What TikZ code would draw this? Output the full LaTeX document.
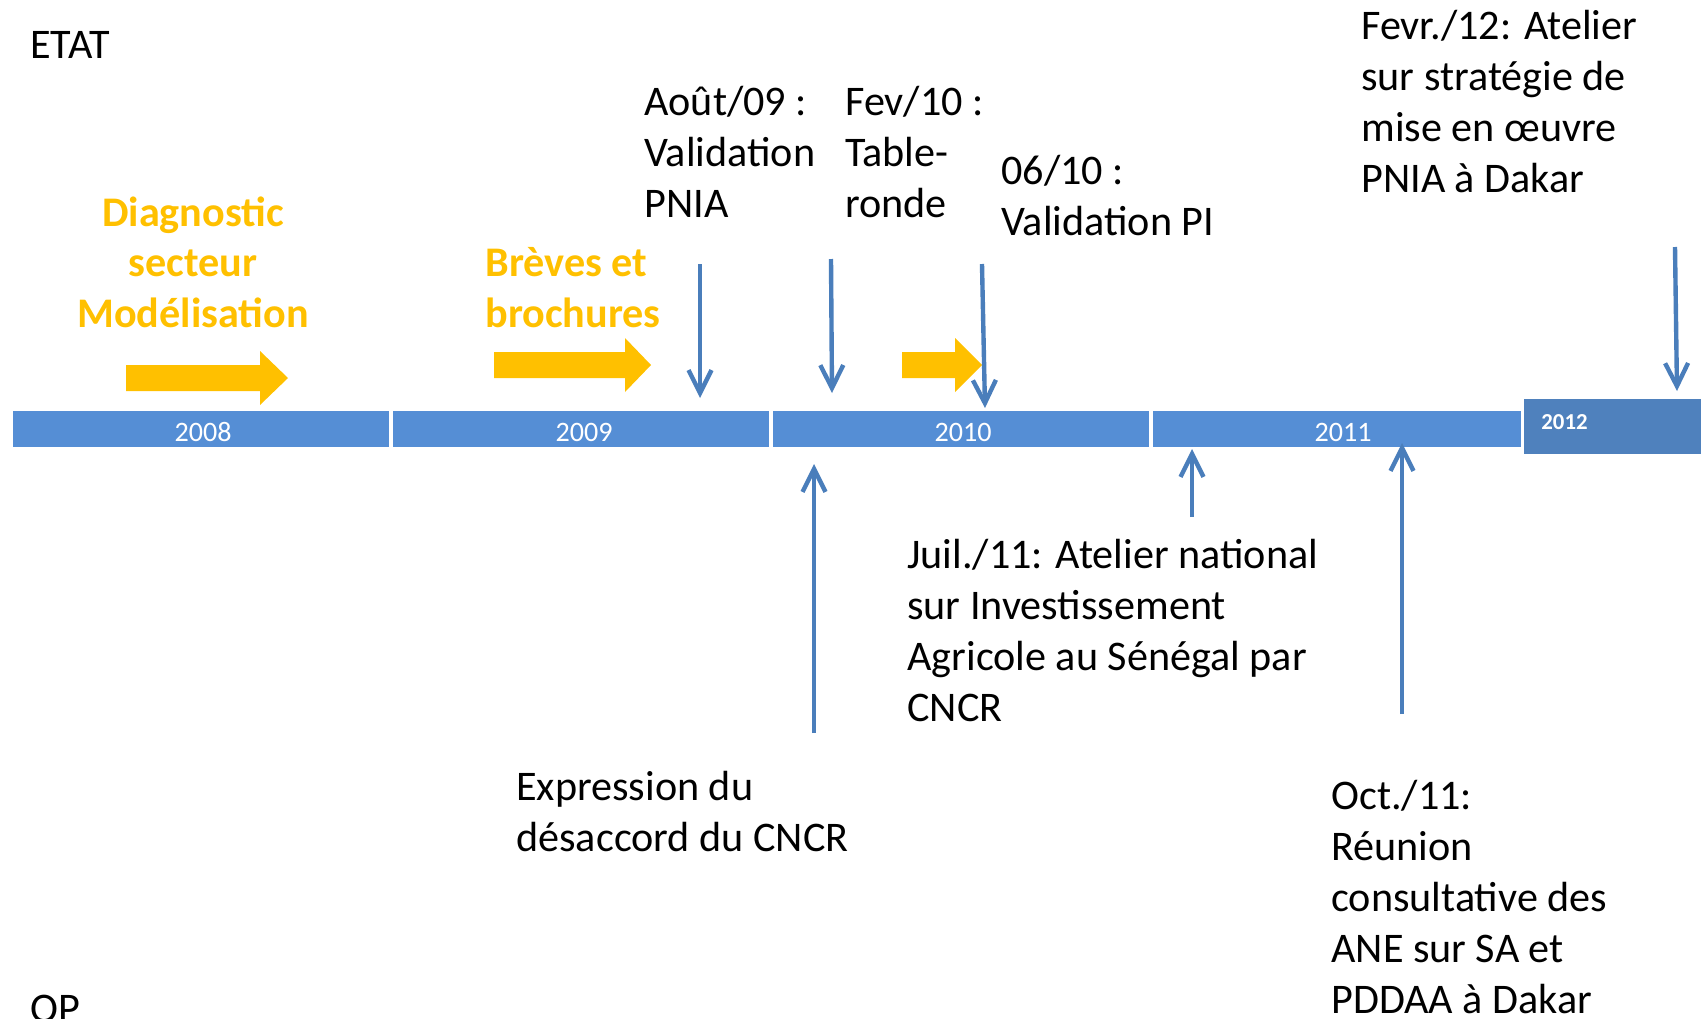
\documentclass[tikz,border=0pt]{standalone}
\usepackage{fontspec}
\setmainfont{Carlito}
\usetikzlibrary{arrows.meta}
\definecolor{barblue}{HTML}{558ED5}
\definecolor{lastblue}{HTML}{4F81BD}
\definecolor{arrowblue}{HTML}{4A7EBB}
\definecolor{gold}{HTML}{FFC000}

\begin{document}
\begin{tikzpicture}[
                x=0.02cm, y=-0.02cm,
                every node/.style={inner sep=0pt, font=\fontsize{24}{29}\selectfont},
                note/.style={anchor=north west, align=left},
                goldnote/.style={text=gold, font=\fontsize{24}{29}\selectfont\bfseries},
                year/.style={anchor=base, text=white, font=\fontsize{16}{19}\selectfont},
                event/.style={draw=arrowblue, line width=2.5pt, -{Straight Barb[length=4.6mm,width=4.6mm]}}
            ]
            \useasboundingbox (0,0) rectangle (1701,1018);
            % timeline
            \foreach \xa/\xb/\xm/\yr in {13/389/203/2008, 393/769/584/2009, 773/1149/963/2010, 1153/1521/1343/2011}{
                \fill[barblue] (\xa,411) rectangle (\xb,447);
                \node[year] (y\yr) at (\xm,441) {\yr};
            }
            \fill[lastblue] (1524,399) rectangle (1701,454);
            \node[year, anchor=base west, font=\fontsize{13}{16}\selectfont\bfseries] (y2012) at (1541,429) {2012};
            % periods
            \foreach \xa/\xh/\xb/\ym in {126/260/288/378, 494/625/651/365, 902/955/982/365}
                \fill[gold] (\xa,\ym-13) -- (\xh,\ym-13) -- (\xh,\ym-27) -- (\xb,\ym)
                    -- (\xh,\ym+27) -- (\xh,\ym+13) -- (\xa,\ym+13) -- cycle;
            \node[anchor=west] (etat) at (30,45) {ETAT};
            \node[anchor=west] (op) at (30,1009) {OP};
            \node[goldnote, anchor=north, align=center] (diag) at (193,196) {Diagnostic\\secteur\\Modélisation};
            \node[goldnote, note] (breves) at (485,247) {Brèves et\\brochures};
            % events
            \node[note] (aout) at (644,86) {Août/09 :\\Validation\\PNIA};
            \node[note] (fev) at (845,86) {Fev/10 :\\Table-\\ronde};
            \node[note] (juin) at (1001,155) {06/10 :\\Validation PI};
            \node[note] (fevr) at (1361,10) {Fevr./12: Atelier\\sur stratégie de\\mise en œuvre\\PNIA à Dakar};
            \node[note] (juil) at (907,539) {Juil./11: Atelier national\\sur Investissement\\Agricole au Sénégal par\\CNCR};
            \node[note] (desac) at (516,771) {Expression du\\désaccord du CNCR};
            \node[note] (oct) at (1331,780) {Oct./11:\\Réunion\\consultative des\\ANE sur SA et\\PDDAA à Dakar};
            \coordinate (aout-s) at (700,264);  \coordinate (aout-e) at (700,398);
            \coordinate (fev-s) at (831,259);   \coordinate (fev-e) at (832,393);
            \coordinate (juin-s) at (982,264);  \coordinate (juin-e) at (985,408);
            \coordinate (fevr-s) at (1675,247); \coordinate (fevr-e) at (1677,391);
            \coordinate (desac-s) at (814,733); \coordinate (desac-e) at (814,464);
            \coordinate (juil-s) at (1192,517); \coordinate (juil-e) at (1192,449);
            \coordinate (oct-s) at (1402,714);  \coordinate (oct-e) at (1402,443);
            \foreach \ev in {aout, fev, juin, fevr, desac, juil, oct}
                \draw[event] (\ev-s) -- (\ev-e);
        \end{tikzpicture}
\end{document}
